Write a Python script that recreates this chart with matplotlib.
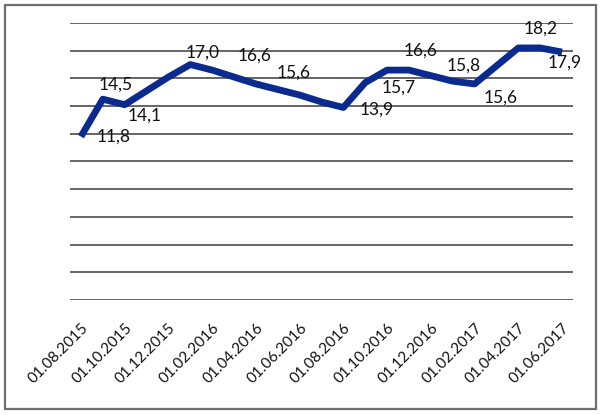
import matplotlib
matplotlib.use("Agg")
import matplotlib.pyplot as plt
from matplotlib.patches import Rectangle

plt.rcParams['font.family'] = ['Lato', 'DejaVu Sans']

# monthly values, 01.08.2015 .. 01.06.2017
months = ["01.08.2015", "01.09.2015", "01.10.2015", "01.11.2015", "01.12.2015",
          "01.01.2016", "01.02.2016", "01.03.2016", "01.04.2016", "01.05.2016",
          "01.06.2016", "01.07.2016", "01.08.2016", "01.09.2016", "01.10.2016",
          "01.11.2016", "01.12.2016", "01.01.2017", "01.02.2017", "01.03.2017",
          "01.04.2017", "01.05.2017", "01.06.2017"]
values = [11.8, 14.5, 14.1, 15.1, 16.1, 17.0, 16.6, 16.1, 15.6, 15.2, 14.8, 14.3,
          13.9, 15.7, 16.6, 16.6, 16.2, 15.8, 15.6, 16.9, 18.2, 18.2, 17.9]

# labelled points (month index) and their text
label_idx = [0, 1, 2, 5, 6, 8, 12, 13, 15, 17, 18, 21, 22]
label_txt = ["11,8", "14,5", "14,1", "17,0", "16,6", "15,6", "13,9",
             "15,7", "16,6", "15,8", "15,6", "18,2", "17,9"]
# label offsets in pixels (dx, dy)
label_off = [(33, 0), (13, 15), (20, -11), (12, 12), (42, 14), (38, 11), (33, -2),
             (33, -5), (12, 19), (11, 16), (26, -14), (0, 19), (3, -11)]

tick_idx = list(range(0, len(months), 2))

fig = plt.figure(figsize=(6, 4.15), dpi=100)
ax = fig.add_axes([70 / 600, 1 - 300 / 415, 503 / 600, 277 / 415])

for y in range(0, 21, 2):
    ax.axhline(y, color="#4a4a4a", lw=1.2, zorder=1)

x = list(range(len(values)))
ax.plot(x, values, color="#0b2a8f", lw=4.9, solid_joinstyle="round",
        solid_capstyle="butt", zorder=3)

for i, t, (dx, dy) in zip(label_idx, label_txt, label_off):
    ax.annotate(t, (i, values[i]), xytext=(dx, dy), textcoords="offset pixels",
                ha="center", va="center", fontsize=12.5, color="#111111", zorder=4)

ax.set_xlim(-0.5, 22.5)
ax.set_ylim(0, 20)
ax.set_yticks([])
ax.set_xticks(tick_idx)
ax.set_xticklabels([months[i] for i in tick_idx], rotation=45, ha="right",
                   va="top", rotation_mode="anchor", fontsize=11, color="#111111")
ax.tick_params(axis="x", length=0, pad=15)
for s in ax.spines.values():
    s.set_visible(False)

fig.patches.append(Rectangle((5 / 600, 6 / 415), 591 / 600, 404 / 415,
                             transform=fig.transFigure, fill=False,
                             edgecolor="#6e6e6e", lw=1.6))

fig.savefig("out.png", dpi=100)
